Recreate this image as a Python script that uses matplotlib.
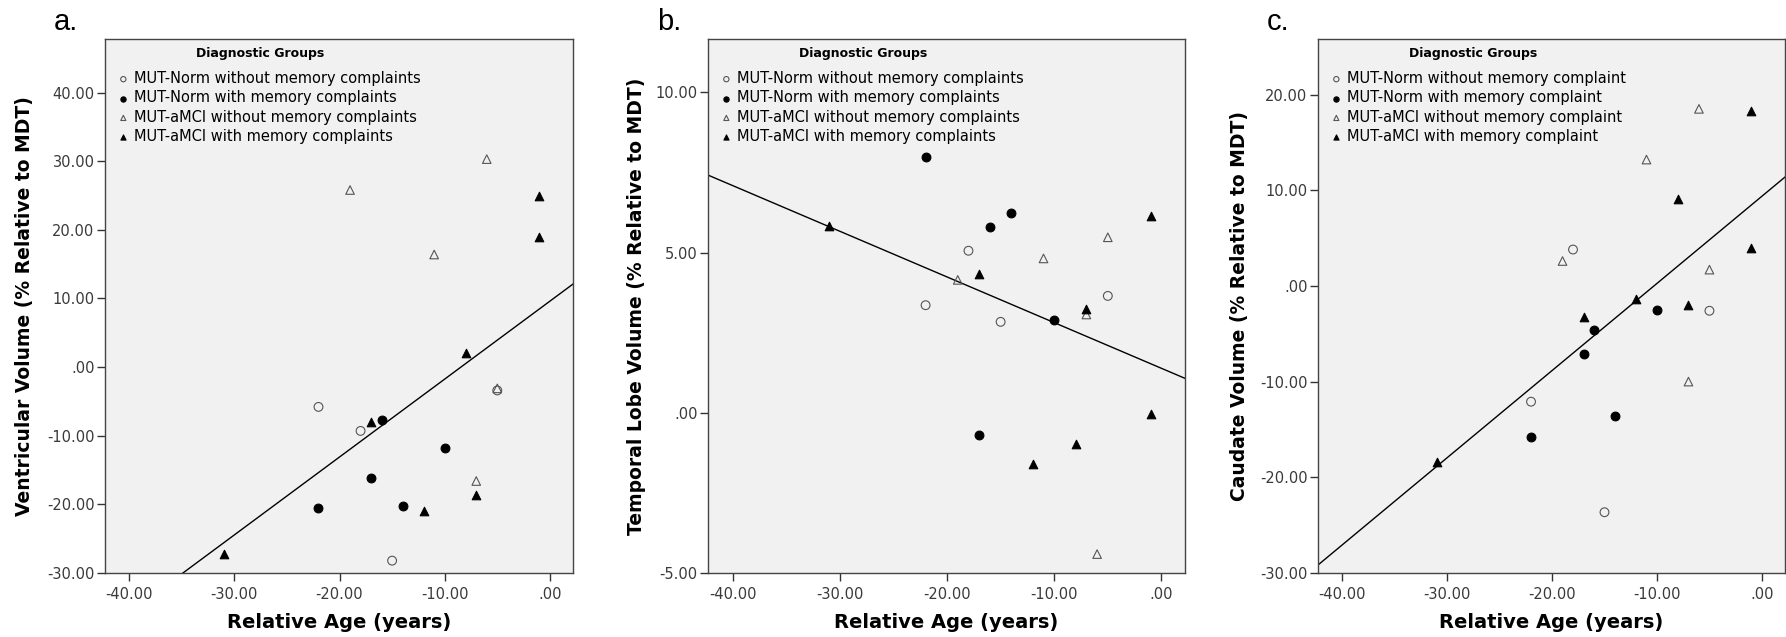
import numpy as np
import matplotlib.pyplot as plt
from matplotlib.ticker import FuncFormatter

# relative age of each subject, by diagnostic group
age_norm_wo = [-22, -18, -15, -5]
age_norm_w = [-22, -17, -16, -14, -10]
age_mci_wo = [-19, -11, -6, -7, -5]
age_mci_w = [-31, -17, -12, -8, -7, -1, -1]

# a. ventricular volume
vent_norm_wo = [-5.8, -9.3, -28.2, -3.4]
vent_norm_w = [-20.6, -16.2, -7.7, -20.2, -11.8]
vent_mci_wo = [25.8, 16.4, 30.3, -16.6, -3.1]
vent_mci_w = [-27.2, -8.0, -20.9, 2.0, -18.6, 24.9, 19.0]
vent_fit = (1.135, 9.6)          # slope, intercept

# b. temporal lobe volume
temp_norm_wo = [3.36, 5.06, 2.84, 3.65]
temp_norm_w = [8.0, -0.68, 5.79, 6.25, 2.89]
temp_mci_wo = [4.15, 4.82, -4.41, 3.07, 5.48]
temp_mci_w = [5.83, 4.33, -1.61, -0.97, 3.23, 6.15, -0.03]
temp_fit = (-0.1426, 1.39)

# c. caudate volume
caud_norm_wo = [-12.1, 3.8, -23.65, -2.6]
caud_norm_w = [-15.8, -7.16, -4.63, -13.6, -2.55]
caud_mci_wo = [2.6, 13.2, 18.5, -10.0, 1.7]
caud_mci_w = [-18.35, -3.2, -1.33, 9.13, -2.0, 18.25, 3.95]
caud_fit = (0.911, 9.37)

x_ticks = [-40, -30, -20, -10, 0]
x_lim = (-42.3, 2.2)

panels = [
    ("a.", "Ventricular Volume (% Relative to MDT)",
     [vent_norm_wo, vent_norm_w, vent_mci_wo, vent_mci_w], vent_fit,
     (-30, 47.8), [-30, -20, -10, 0, 10, 20, 30, 40], "complaints"),
    ("b.", "Temporal Lobe Volume (% Relative to MDT)",
     [temp_norm_wo, temp_norm_w, temp_mci_wo, temp_mci_w], temp_fit,
     (-5, 11.67), [-5, 0, 5, 10], "complaints"),
    ("c.", "Caudate Volume (% Relative to MDT)",
     [caud_norm_wo, caud_norm_w, caud_mci_wo, caud_mci_w], caud_fit,
     (-30, 25.8), [-30, -20, -10, 0, 10, 20], "complaint"),
]
ages = [age_norm_wo, age_norm_w, age_mci_wo, age_mci_w]


def spss_fmt(v, pos):
    s = "%.2f" % v
    if s in ("0.00", "-0.00"):
        return ".00"
    return s


W, H = 1786, 637
boxes = [(105, 468), (708, 477), (1318, 467)]
ylab_off = [-80, -72, -78]
bot, hgt = 64, 534

fig = plt.figure(figsize=(W / 100, H / 100), dpi=100)

for (tag, ylab, ys, fit, ylim, yticks, word), (left, wid), yoff in zip(panels, boxes, ylab_off):
    ax = fig.add_axes([left / W, bot / H, wid / W, hgt / H])
    ax.set_facecolor("#f1f1f1")

    styles = [
        dict(marker="o", s=40, facecolors="none", edgecolors="#555555", linewidths=0.8),
        dict(marker="o", s=40, facecolors="black", edgecolors="black", linewidths=0.8),
        dict(marker="^", s=38, facecolors="none", edgecolors="#555555", linewidths=0.8),
        dict(marker="^", s=38, facecolors="black", edgecolors="black", linewidths=0.8),
    ]
    labels = ["MUT-Norm without memory " + word,
              "MUT-Norm with memory " + word,
              "MUT-aMCI without memory " + word,
              "MUT-aMCI with memory " + word]
    handles = []
    for xs, yv, st, lab in zip(ages, ys, styles, labels):
        handles.append(ax.scatter(xs, yv, label=lab, zorder=3, **st))

    xf = np.array(x_lim)
    ax.plot(xf, fit[1] + fit[0] * xf, color="black", lw=1.0, zorder=2)

    ax.set_xlim(*x_lim)
    ax.set_ylim(*ylim)
    ax.set_xticks(x_ticks)
    ax.set_yticks(yticks)
    ax.xaxis.set_major_formatter(FuncFormatter(spss_fmt))
    ax.yaxis.set_major_formatter(FuncFormatter(spss_fmt))
    ax.tick_params(direction="out", length=6, width=1.0, color="#333333",
                   labelsize=10.5, labelcolor="#3a3a3a")
    ax.tick_params(axis="x", pad=4)
    ax.tick_params(axis="y", pad=1.5)
    for sp in ax.spines.values():
        sp.set_color("#444444")
        sp.set_linewidth(1.0)

    ax.set_xlabel("Relative Age (years)", fontsize=14, fontweight="bold", va="center")
    ax.xaxis.set_label_coords(0.5, -49 / hgt)
    ax.set_ylabel(ylab, fontsize=13.5, fontweight="bold", va="center")
    ax.yaxis.set_label_coords(yoff / wid, 0.5)

    ax.text(91 / wid, 1 - 15 / hgt, "Diagnostic Groups", transform=ax.transAxes,
            fontsize=9, fontweight="bold", va="center", ha="left")
    ax.legend(handles=handles, loc="upper left",
              bbox_to_anchor=(12.5 / wid, 1 - 32 / hgt), frameon=False,
              borderaxespad=0, borderpad=0, handlelength=0.8,
              handletextpad=0.3, labelspacing=0.3, fontsize=10.5,
              markerscale=0.6)

    fig.text((left - 51) / W, 1 - 30 / H, tag, fontsize=21,
             family="Liberation Sans", va="baseline", ha="left")

fig.savefig("out.png", dpi=100)
